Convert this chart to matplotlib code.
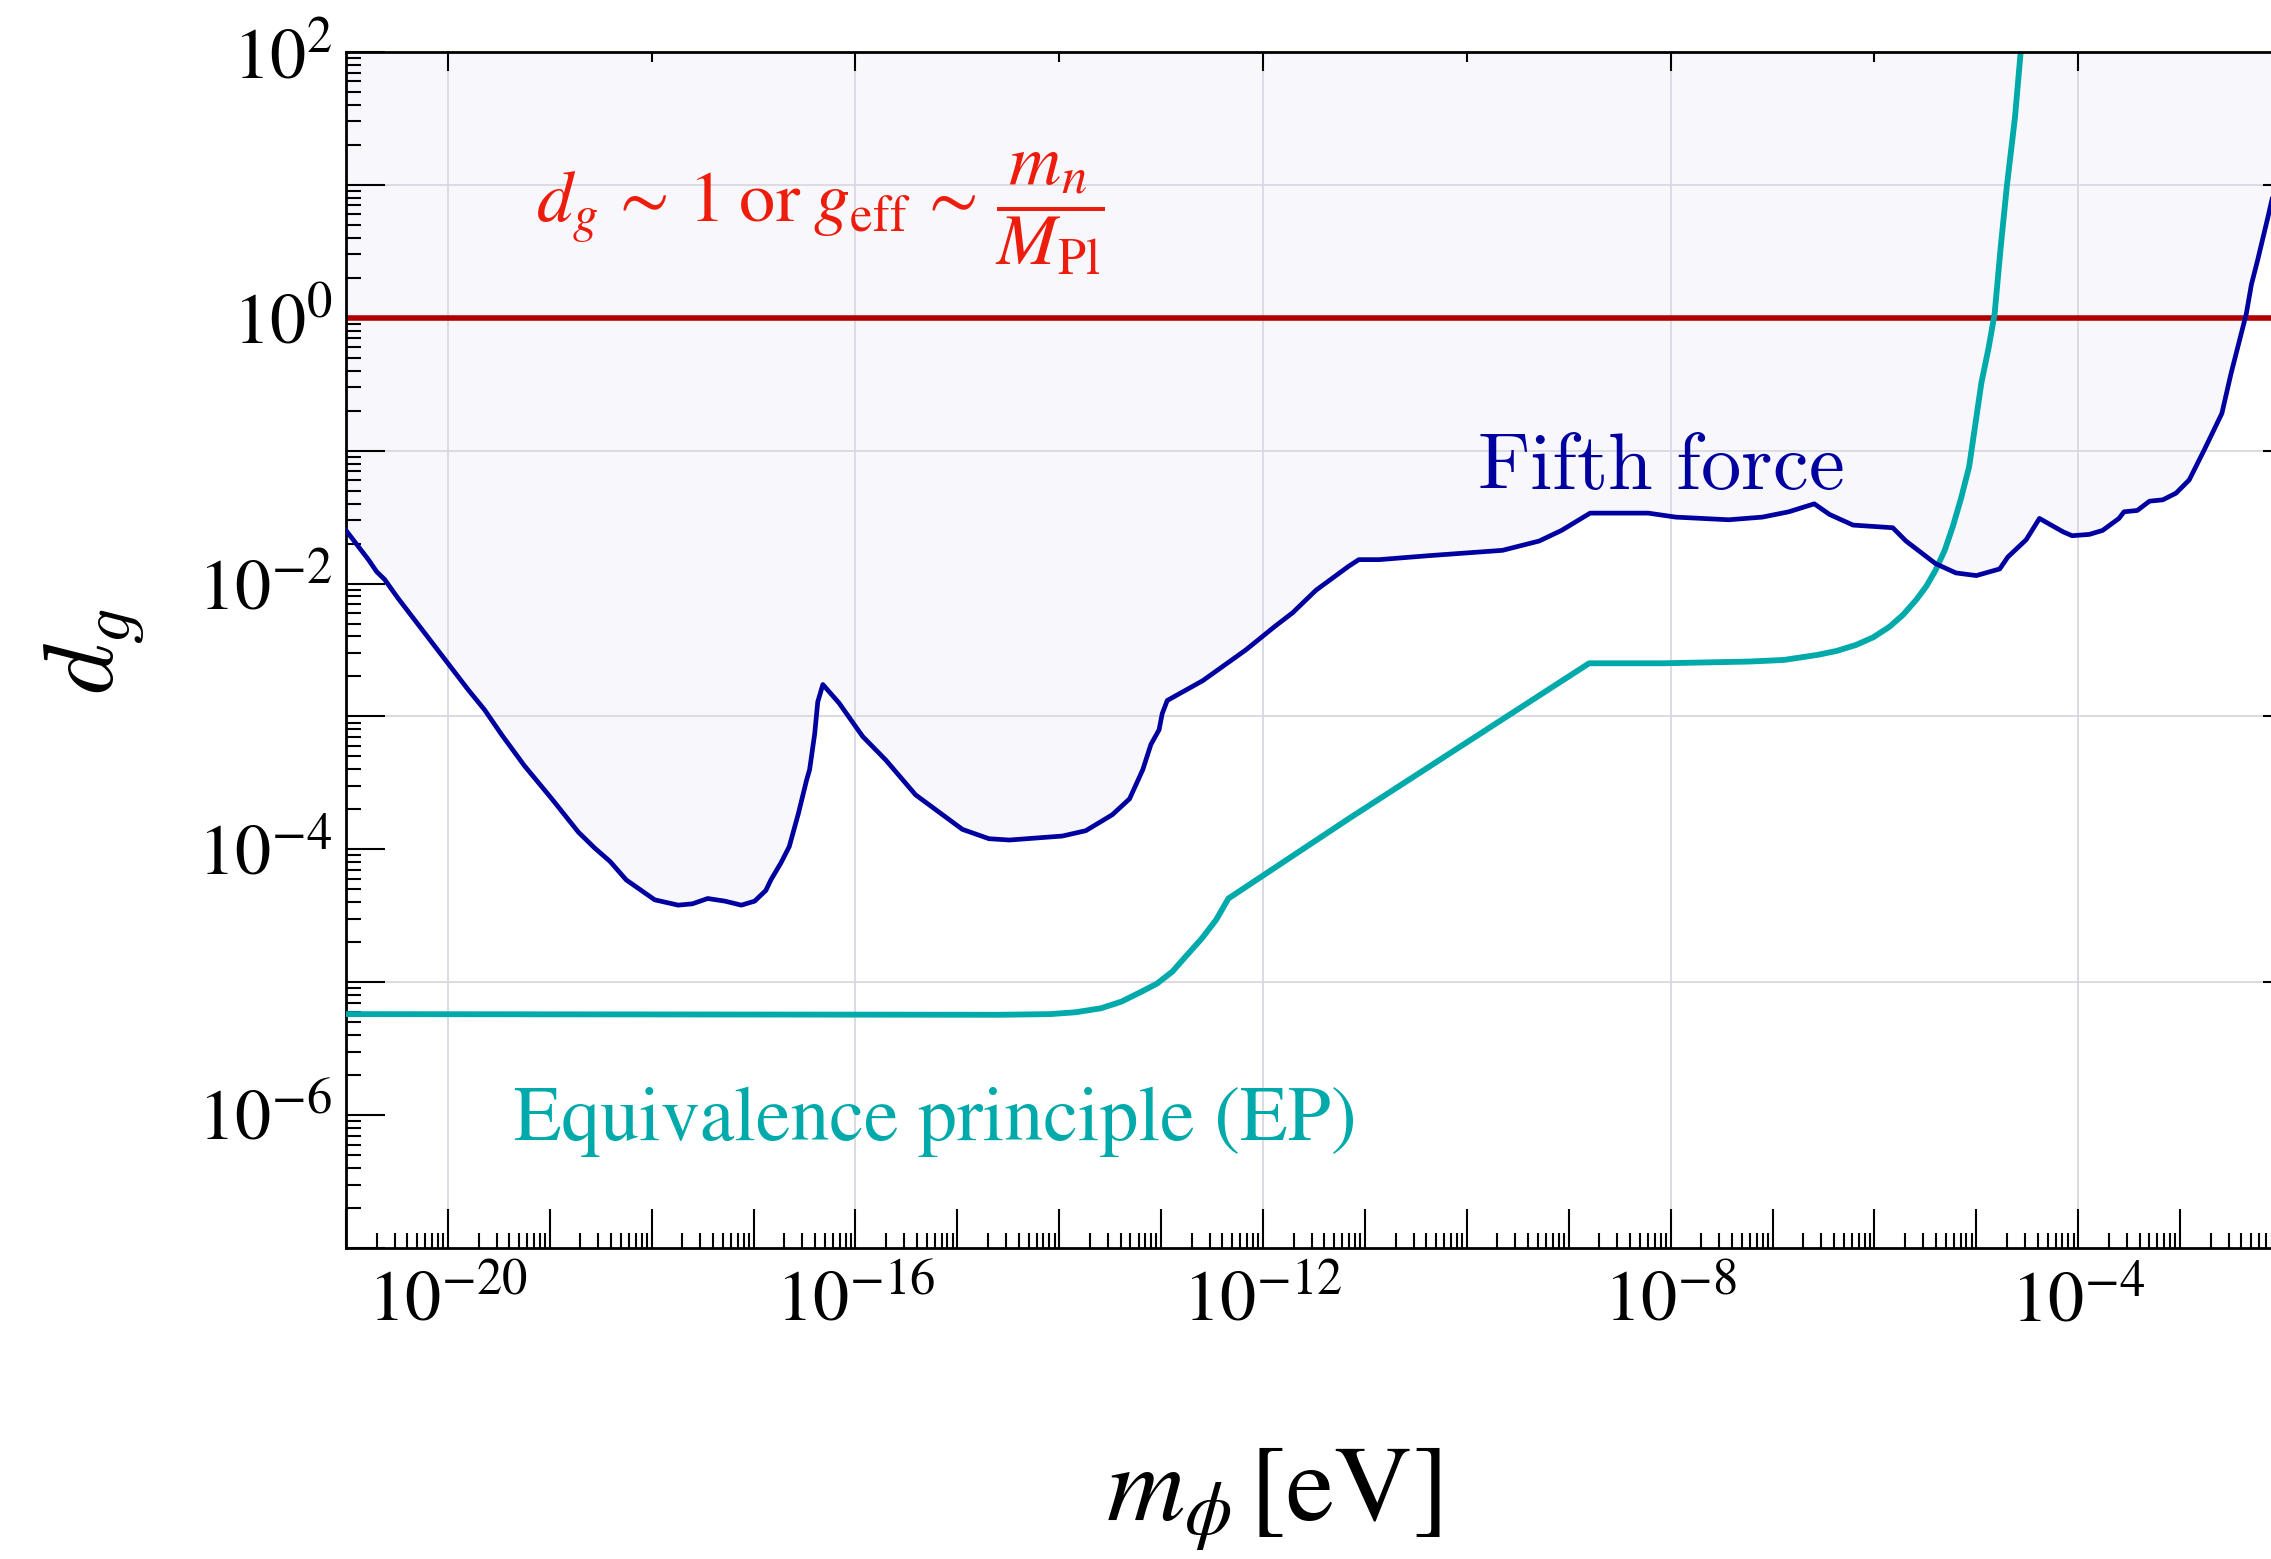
import numpy as np
import matplotlib
matplotlib.use("Agg")
import matplotlib.pyplot as plt
from matplotlib.ticker import FixedLocator, LogLocator, FuncFormatter, NullFormatter

plt.rcParams["mathtext.fontset"] = "stix"
plt.rcParams["font.family"] = "STIXGeneral"

# fifth force bound (log10 m_phi [eV], log10 d_g)
fifth_logm = [-21.0, -20.78, -20.70, -20.62, -20.49, -20.23, -20.03, -19.80, -19.64, -19.47,
              -19.25, -18.98, -18.72, -18.56, -18.41, -18.25, -17.97, -17.74, -17.60, -17.45,
              -17.28, -17.12, -16.99, -16.88, -16.83, -16.73, -16.65, -16.56, -16.48, -16.45,
              -16.40, -16.37, -16.32, -16.16, -15.93, -15.70, -15.41, -14.95, -14.69, -14.49,
              -13.97, -13.74, -13.48, -13.31, -13.18, -13.10, -13.02, -12.99, -12.94, -12.59,
              -12.17, -11.88, -11.71, -11.48, -11.16, -11.06, -10.86, -10.37, -9.65, -9.29,
              -9.07, -8.79, -8.22, -7.95, -7.43, -7.10, -6.84, -6.59, -6.44, -6.21,
              -5.82, -5.69, -5.40, -5.20, -5.00, -4.77, -4.69, -4.51, -4.38, -4.15,
              -4.06, -3.89, -3.76, -3.60, -3.55, -3.42, -3.30, -3.17, -3.04, -2.91,
              -2.76, -2.59, -2.50, -2.40, -2.35, -2.30, -2.24, -2.14, -2.05]
fifth_logd = [-1.60, -1.82, -1.91, -1.97, -2.11, -2.37, -2.57, -2.80, -2.95, -3.14,
              -3.37, -3.62, -3.87, -3.99, -4.09, -4.23, -4.38, -4.42, -4.41, -4.37,
              -4.39, -4.42, -4.39, -4.31, -4.23, -4.10, -3.98, -3.73, -3.48, -3.40,
              -3.13, -2.89, -2.76, -2.90, -3.15, -3.33, -3.59, -3.85, -3.92, -3.93,
              -3.90, -3.86, -3.74, -3.62, -3.40, -3.21, -3.10, -2.98, -2.88, -2.73,
              -2.50, -2.32, -2.22, -2.05, -1.87, -1.82, -1.82, -1.79, -1.75, -1.68,
              -1.60, -1.47, -1.47, -1.50, -1.52, -1.50, -1.46, -1.40, -1.48, -1.56,
              -1.58, -1.68, -1.85, -1.92, -1.94, -1.89, -1.80, -1.67, -1.51, -1.61,
              -1.64, -1.63, -1.60, -1.51, -1.46, -1.45, -1.38, -1.37, -1.32, -1.22,
              -0.99, -0.72, -0.42, -0.12, 0.03, 0.25, 0.43, 0.75, 1.05]

# equivalence principle bound
ep_logm = [-21.0, -14.59, -14.09, -13.84, -13.59, -13.39, -13.19, -13.04, -12.89, -12.74,
           -12.60, -12.46, -12.34, -11.16, -8.80, -8.08, -7.23, -6.89, -6.56, -6.37,
           -6.18, -6.01, -5.85, -5.72, -5.59, -5.49, -5.40, -5.31, -5.23, -5.15,
           -5.07, -4.95, -4.88, -4.82, -4.76, -4.70, -4.62, -4.56]
ep_logd = [-5.24, -5.245, -5.24, -5.226, -5.196, -5.146, -5.07, -5.01, -4.92, -4.79,
           -4.67, -4.53, -4.37, -3.77, -2.60, -2.60, -2.587, -2.575, -2.537, -2.507,
           -2.462, -2.404, -2.324, -2.236, -2.123, -2.02, -1.90, -1.75, -1.57, -1.36,
           -1.12, -0.49, -0.23, 0.03, 0.535, 0.99, 1.51, 2.04]

dg_natural = 1.0

x_label_exps = [-20, -16, -12, -8, -4]
x_top_minor_exps = [-18, -14, -10, -6]
y_label_exps = [2, 0, -2, -4, -6]
y_odd_exps = [1, -1, -3, -5]

blue = "#0000a0"
teal = "#00aaaa"
gridc = "#d8d8e2"

fig = plt.figure(figsize=(22.71, 15.59), dpi=100)
ax = fig.add_axes([346 / 2271, 1 - 1248 / 1559, (2273 - 346) / 2271, (1248 - 52) / 1559])
ax.set_xscale("log")
ax.set_yscale("log")
xlim = (1e-21, 10 ** -2.088)
ylim = (1e-7, 1e2)

m_ff = 10.0 ** np.array(fifth_logm)
d_ff = 10.0 ** np.array(fifth_logd)
m_ep = 10.0 ** np.array(ep_logm)
d_ep = 10.0 ** np.array(ep_logd)

ax.fill_between(m_ff, d_ff, ylim[1], color="#f8f8fc", lw=0, zorder=0)
for e in x_label_exps:
    ax.axvline(10.0 ** e, color=gridc, lw=1.3, zorder=1)
for e in y_odd_exps:
    ax.axhline(10.0 ** e, color=gridc, lw=1.3, zorder=1)

ax.axhline(dg_natural, color="#b00000", lw=4.0, zorder=2)
ax.plot(m_ep, d_ep, color=teal, lw=4.2, zorder=3)
ax.plot(m_ff, d_ff, color=blue, lw=3.4, zorder=4)

ax.set_xlim(xlim)
ax.set_ylim(ylim)

def xfmt(v, pos):
    e = int(round(np.log10(v)))
    return r"$10^{%d}$" % e if e in x_label_exps else ""

def yfmt(v, pos):
    e = int(round(np.log10(v)))
    return r"$10^{%d}$" % e if e in y_label_exps else ""

ax.xaxis.set_major_locator(FixedLocator(10.0 ** np.arange(-21, -1)))
ax.xaxis.set_minor_locator(LogLocator(base=10, subs=np.arange(2, 10), numticks=200))
ax.xaxis.set_major_formatter(FuncFormatter(xfmt))
ax.xaxis.set_minor_formatter(NullFormatter())
ax.yaxis.set_major_locator(FixedLocator(10.0 ** np.arange(-7, 3)))
ax.yaxis.set_minor_locator(LogLocator(base=10, subs=np.arange(2, 10), numticks=200))
ax.yaxis.set_major_formatter(FuncFormatter(yfmt))
ax.yaxis.set_minor_formatter(NullFormatter())

ax.tick_params(which="both", direction="in", top=False, right=False, width=1.5)
ax.tick_params(which="major", length=28, labelsize=52)
ax.tick_params(which="minor", length=11)
ax.tick_params(axis="x", which="major", pad=16)
ax.tick_params(axis="y", which="major", pad=10)
for s in ax.spines.values():
    s.set_linewidth(2)
ax.spines["right"].set_visible(False)
ax.spines["top"].set_visible(False)

# top and right ticks are a different set
ax_top = ax.twiny()
ax_top.set_xscale("log")
ax_top.set_xlim(xlim)
ax_top.xaxis.set_major_locator(FixedLocator([10.0 ** e for e in x_label_exps]))
ax_top.xaxis.set_minor_locator(FixedLocator([10.0 ** e for e in x_top_minor_exps]))
ax_top.xaxis.set_major_formatter(NullFormatter())
ax_top.xaxis.set_minor_formatter(NullFormatter())
ax_top.tick_params(which="both", direction="in", width=1.5)
ax_top.tick_params(which="major", length=14)
ax_top.tick_params(which="minor", length=7)
for s in ax_top.spines.values():
    s.set_visible(False)
ax_top.spines["top"].set_visible(True)
ax_top.spines["top"].set_linewidth(2)

ax_right = ax.twinx()
ax_right.set_yscale("log")
ax_right.set_ylim(ylim)
ax_right.yaxis.set_major_locator(FixedLocator([]))
ax_right.yaxis.set_minor_locator(FixedLocator([10.0 ** e for e in y_odd_exps]))
ax_right.yaxis.set_minor_formatter(NullFormatter())
ax_right.tick_params(which="minor", direction="in", length=7, width=1.5)
for s in ax_right.spines.values():
    s.set_visible(False)
ax_right.spines["right"].set_visible(True)
ax_right.spines["right"].set_linewidth(2)

# labels on the plot
ax.text(10 ** -19.14, 10 ** 0.716,
        r"$d_g\,\sim\,1\;\mathrm{or}\;g_{\mathrm{eff}}\,\sim\,\dfrac{m_n}{M_{\mathrm{Pl}}}$",
        color="#ee1c0c", fontsize=52, va="baseline", ha="left")
ax.text(10 ** -9.90, 10 ** -1.29, r"$\mathrm{Fifth\ force}$", color=blue,
        fontsize=58, math_fontfamily="cm", va="baseline", ha="left")
ax.text(10 ** -19.35, 10 ** -6.19, "Equivalence principle (EP)", color=teal,
        fontsize=56, va="baseline", ha="left")

fig.text(1273 / 2271, 1 - 1522 / 1559, r"$m_\phi\,[\mathrm{eV}]$", fontsize=78,
         ha="center", va="baseline")
fig.text(94 / 2271, 1 - 652 / 1559, r"$d_g$", fontsize=72, rotation=90,
         ha="center", va="center", math_fontfamily="cm")

fig.savefig("out.png", dpi=100)
